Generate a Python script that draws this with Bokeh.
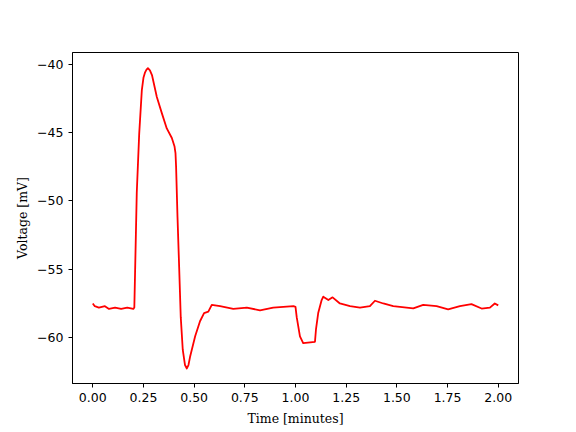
from bokeh.plotting import figure
from bokeh.models import FixedTicker, CustomJSTickFormatter, Range1d
from bokeh.embed import file_html
from bokeh.resources import INLINE

time_min = [0.000, 0.010, 0.030, 0.060, 0.080, 0.110, 0.140, 0.170, 0.200, 0.205,
            0.217, 0.229, 0.242, 0.250, 0.258, 0.265, 0.272, 0.282, 0.292, 0.316,
            0.341, 0.365, 0.390, 0.403, 0.408, 0.411, 0.418, 0.426, 0.434, 0.444,
            0.455, 0.464, 0.472, 0.480, 0.505, 0.529, 0.549, 0.570, 0.587, 0.628,
            0.693, 0.760, 0.825, 0.890, 0.990, 1.000, 1.006, 1.022, 1.038, 1.096,
            1.101, 1.112, 1.129, 1.137, 1.162, 1.183, 1.219, 1.269, 1.318, 1.367,
            1.392, 1.433, 1.482, 1.548, 1.581, 1.630, 1.696, 1.753, 1.811, 1.868,
            1.918, 1.959, 1.983, 2.000]
voltage_mv = [-57.5, -57.7, -57.8, -57.7, -57.9, -57.8, -57.9, -57.8, -57.9, -57.8,
              -49.4, -45.1, -41.9, -41.0, -40.6, -40.4, -40.3, -40.45, -40.8, -42.4,
              -43.6, -44.7, -45.4, -46.0, -46.5, -47.5, -51.2, -54.8, -58.5, -60.9,
              -62.0, -62.25, -62.0, -61.4, -59.9, -58.8, -58.2, -58.1, -57.6, -57.7,
              -57.9, -57.8, -58.0, -57.8, -57.7, -57.75, -58.5, -59.9, -60.4, -60.3,
              -59.4, -58.2, -57.25, -57.0, -57.25, -57.05, -57.5, -57.7, -57.8, -57.7,
              -57.3, -57.5, -57.7, -57.8, -57.86, -57.6, -57.7, -57.93, -57.7, -57.55,
              -57.87, -57.8, -57.5, -57.64]

x_ticks = [0.0, 0.25, 0.5, 0.75, 1.0, 1.25, 1.5, 1.75, 2.0]
y_ticks = [-60, -55, -50, -45, -40]

p = figure(width=576, height=432, output_backend="svg", toolbar_location=None,
           x_range=Range1d(-0.1, 2.1), y_range=Range1d(-63.35, -39.15),
           min_border_left=72, min_border_right=58, min_border_top=52, min_border_bottom=49)

p.line(time_min, voltage_mv, line_color="#ff0000", line_width=1.8, line_join="round")

p.grid.visible = False
p.outline_line_color = "black"
p.outline_line_width = 1
p.background_fill_color = "white"
p.border_fill_color = "white"

for ax in (p.xaxis[0], p.yaxis[0]):
    ax.axis_line_color = "black"
    ax.major_tick_line_color = "black"
    ax.minor_tick_line_color = None
    ax.major_tick_out = 4
    ax.major_tick_in = 0
    ax.major_label_text_font = "DejaVu Sans"
    ax.major_label_text_font_size = "12.5px"
    ax.major_label_text_color = "black"
    ax.axis_label_text_font = "DejaVu Serif"
    ax.axis_label_text_font_size = "12.5px"
    ax.axis_label_text_font_style = "normal"
    ax.axis_label_text_color = "black"
    ax.major_label_standoff = 5

p.xaxis.ticker = FixedTicker(ticks=x_ticks)
p.yaxis.ticker = FixedTicker(ticks=y_ticks)
p.xaxis.formatter = CustomJSTickFormatter(code="return tick.toFixed(2);")
p.yaxis.formatter = CustomJSTickFormatter(code="return tick.toFixed(0).replace('-', '\\u2212');")
p.xaxis.axis_label = "Time [minutes]"
p.yaxis.axis_label = "Voltage [mV]"
p.xaxis.axis_label_standoff = 6
p.yaxis.axis_label_standoff = 4

open("out.html", "w").write(file_html(p, INLINE))
